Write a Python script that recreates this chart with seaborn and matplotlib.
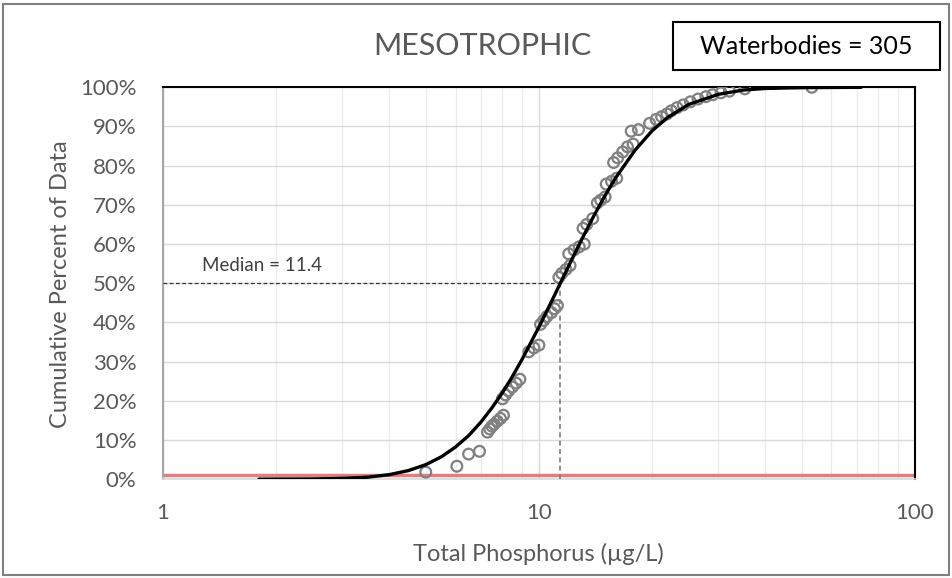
import numpy as np
import pandas as pd
import matplotlib
matplotlib.use("Agg")
import matplotlib.pyplot as plt
import matplotlib.ticker as mticker
from matplotlib.patches import Rectangle
import seaborn as sns

# --- DATA ---
# observed waterbodies: total phosphorus (ug/L) vs cumulative percent
obs_tp = [5.0, 6.05, 6.5, 6.95,
          7.3, 7.4, 7.5, 7.6, 7.75, 7.9, 8.05,
          8.0, 8.15, 8.3, 8.5, 8.7, 8.9,
          9.4, 9.7, 10.0,
          10.1, 10.3, 10.5, 10.8, 11.0, 11.2,
          11.3, 11.5, 11.8, 12.1,
          12.0, 12.4, 12.8, 13.2,
          13.1, 13.4, 13.9,
          14.3, 14.6, 15.0,
          15.1, 15.6, 16.1,
          15.8, 16.2, 16.7, 17.2, 17.8,
          17.6, 18.4,
          19.7, 20.5, 21.2, 21.9,
          22.5, 23.3, 24.2, 25.3,
          26.5, 27.8, 29.0, 30.5, 32.1,
          35.3, 53.2]
obs_pct = [1.8, 3.3, 6.4, 7.1,
           12.0, 12.8, 13.5, 14.0, 14.8, 15.5, 16.3,
           20.5, 21.5, 22.5, 23.5, 24.5, 25.5,
           32.5, 33.5, 34.2,
           39.5, 40.5, 41.5, 42.5, 43.5, 44.3,
           51.5, 52.5, 53.5, 54.5,
           57.5, 58.5, 59.3, 60.0,
           64.0, 65.0, 66.5,
           70.5, 71.2, 72.0,
           75.3, 76.0, 76.8,
           80.8, 82.0, 83.5, 84.8, 85.5,
           88.8, 89.2,
           90.8, 91.8, 92.5, 93.2,
           94.0, 94.8, 95.5, 96.3,
           97.0, 97.6, 98.1, 98.6, 99.0,
           99.6, 100.0]

# fitted curve (black line)
fit_tp = [1.8, 2.5, 3.0, 3.5, 4.0, 4.5, 5.0, 5.5, 6.0, 6.5, 7.0, 7.5, 8.0, 8.5,
          9.0, 10.0, 11.0, 11.4, 12.0, 13.0, 14.0, 15.0, 16.0, 18.0, 20.0,
          22.0, 25.0, 30.0, 35.0, 40.0, 50.0, 72.0]
fit_pct = [0.0, 0.05, 0.2, 0.5, 1.15, 2.2, 3.7, 5.7, 8.2, 11.1, 14.5, 18.2, 22.1, 26.2,
           30.4, 38.8, 46.9, 50.0, 54.4, 61.2, 67.2, 72.4, 76.9, 83.9, 88.9,
           92.3, 95.6, 98.2, 99.3, 99.7, 99.9, 100.0]

median_tp = 11.4
threshold_pct = 1.0
n_waterbodies = 305

obs = pd.DataFrame({"tp": obs_tp, "pct": obs_pct})
fit = pd.DataFrame({"tp": fit_tp, "pct": fit_pct})

# --- STYLE ---
sns.set_style("white")
plt.rcParams["font.family"] = ["Lato", "DejaVu Sans"]
grey_txt = "#595959"

fig = plt.figure(figsize=(9.53, 5.78), dpi=100)
ax = fig.add_axes([0.171, 0.171, 0.789, 0.678])
ax.set_xscale("log")
ax.set_xlim(1, 100)
ax.set_ylim(0, 100)

# grid
ax.xaxis.set_major_locator(mticker.LogLocator(base=10, numticks=5))
ax.xaxis.set_minor_locator(mticker.LogLocator(base=10, subs=np.arange(2, 10), numticks=20))
ax.xaxis.set_minor_formatter(mticker.NullFormatter())
ax.xaxis.set_major_formatter(mticker.FuncFormatter(lambda v, p: f"{v:g}"))
ax.yaxis.set_major_locator(mticker.MultipleLocator(10))
ax.yaxis.set_major_formatter(mticker.FuncFormatter(lambda v, p: f"{v:.0f}%"))
ax.grid(True, which="major", color="#d9d9d9", linewidth=1.0)
ax.grid(True, which="minor", axis="x", color="#ececec", linewidth=1.0)
ax.set_axisbelow(True)

# threshold line
ax.axhline(threshold_pct, color="#e07070", linewidth=2.5, alpha=0.9, zorder=2)

# median guides
ax.plot([1, median_tp], [50, 50], color="#333333", linestyle=(0, (3, 2)), linewidth=0.9, zorder=3)
ax.plot([median_tp, median_tp], [0, 50], color="#7f7f7f", linestyle=(0, (3, 2)), linewidth=1.2, zorder=3)
ax.text(1.27, 53.0, f"Median = {median_tp}", fontsize=13.5, color="#404040",
        va="baseline", ha="left")

# observed points
sns.scatterplot(data=obs, x="tp", y="pct", ax=ax, marker="o", s=60,
                facecolors="none", edgecolor="#808080", linewidth=1.6, zorder=4, legend=False)
# fitted curve
sns.lineplot(data=fit, x="tp", y="pct", ax=ax, color="black", linewidth=2.4,
             estimator=None, sort=True, zorder=5)

ax.set_xlabel("")
ax.set_ylabel("")
ax.tick_params(axis="both", which="both", length=0, labelsize=16, colors=grey_txt)
ax.tick_params(axis="x", pad=17)
ax.tick_params(axis="y", pad=19)

for side in ["top", "right"]:
    ax.spines[side].set_color("black")
    ax.spines[side].set_linewidth(1.5)
ax.spines["left"].set_color("#a6a6a6")
ax.spines["left"].set_linewidth(1.5)
ax.spines["bottom"].set_color("#d9d9d9")
ax.spines["bottom"].set_linewidth(1.2)

# titles / labels
fig.text(0.506, 0.921, "MESOTROPHIC", fontsize=22, color=grey_txt, ha="center", va="center")
fig.patches.append(Rectangle((0.706, 0.879), 0.280, 0.083, transform=fig.transFigure,
                             fc="white", ec="black", lw=1.5))
fig.text(0.846, 0.919, f"Waterbodies = {n_waterbodies}", fontsize=18, color="black",
         ha="center", va="center")
fig.text(0.565, 0.029, "Total Phosphorus (µg/L)", fontsize=17, color=grey_txt,
         ha="center", va="baseline")
fig.text(0.063, 0.509, "Cumulative Percent of Data", fontsize=17, color=grey_txt,
         ha="center", va="center", rotation=90)

# outer frame
fig.patches.append(Rectangle((0.003, 0.005), 0.993, 0.988, transform=fig.transFigure,
                             fill=False, ec="#808080", lw=1.5))

fig.savefig("out.png", dpi=100)
